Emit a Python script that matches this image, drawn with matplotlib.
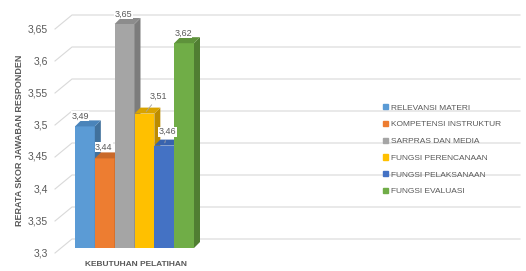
import numpy as np
import matplotlib
matplotlib.use("Agg")
import matplotlib.pyplot as plt
from matplotlib.lines import Line2D
from matplotlib.patches import Patch, Polygon

plt.rcParams['font.family'] = ['Liberation Sans', 'DejaVu Sans']

# data
categories = ['RELEVANSI MATERI', 'KOMPETENSI INSTRUKTUR', 'SARPRAS DAN MEDIA',
              'FUNGSI PERENCANAAN', 'FUNGSI PELAKSANAAN', 'FUNGSI EVALUASI']
values = [3.49, 3.44, 3.65, 3.51, 3.46, 3.62]
yticks = [3.3, 3.35, 3.4, 3.45, 3.5, 3.55, 3.6, 3.65]
group_label = 'KEBUTUHAN PELATIHAN'
y_label = 'RERATA SKOR JAWABAN RESPONDEN'

front_cols = ['#5B9BD5', '#ED7D31', '#A5A5A5', '#FFC000', '#4472C4', '#70AD47']
side_cols = ['#41719C', '#AE5A21', '#7C7C7C', '#BC8C00', '#2F5597', '#507E32']
top_cols = ['#4A84BA', '#C9692A', '#8C8C8C', '#D9A300', '#3863AE', '#5E923B']
# label offsets in pixels (dx, dy), leader line or not
lab_off = [(-5, 10, False), (-1, 11, False), (-1, 10, False),
           (14, 17, True), (3, 14, True), (-1, 10, False)]

W, H = 526, 271
fig = plt.figure(figsize=(W / 100, H / 100), dpi=100)
ax = fig.add_axes([75 / W, 23 / H, 119 / W, 224 / H])
ax.set_xlim(0, len(values))
ax.set_ylim(3.3, 3.65)
ax.axis('off')

txt = '#595959'

# depth of the bars in data units (6 px right, 6 px up)
ddx = 6 / (119 / len(values))
ddy = 6 * 0.35 / 224

# gridlines on the walls (back wall shifted up, left wall diagonal)
for v in yticks:
    yb = ax.transData.transform((0, v))[1]
    yf, yk = yb - 5, yb + 9
    fig.add_artist(Line2D([55 / W, 72 / W, 520 / W], [yf / H, yk / H, yk / H],
                          color='#D9D9D9', lw=0.8, zorder=0))
    fig.text(48 / W, yf / H, f'{v:g}'.replace('.', ','), ha='right', va='center',
             fontsize=7.5, color=txt)

# bars with 3D side and top faces
x = np.arange(len(values))
for i, v in enumerate(values):
    z = 2 + i
    ax.bar(x[i], v - 3.3, bottom=3.3, width=1, align='edge', color=front_cols[i],
           zorder=z, clip_on=False, lw=0)
    side = [(x[i] + 1, 3.3), (x[i] + 1, v), (x[i] + 1 + ddx, v + ddy), (x[i] + 1 + ddx, 3.3 + ddy)]
    top = [(x[i], v), (x[i] + 1, v), (x[i] + 1 + ddx, v + ddy), (x[i] + ddx, v + ddy)]
    ax.add_patch(Polygon(side, closed=True, color=side_cols[i], lw=0, zorder=z, clip_on=False))
    ax.add_patch(Polygon(top, closed=True, color=top_cols[i], lw=0, zorder=z, clip_on=False))

for i, v in enumerate(values):
    dx, dy, leader = lab_off[i]
    ap = dict(arrowstyle='-', color='#A6A6A6', lw=0.6, shrinkA=3, shrinkB=2) if leader else None
    ax.annotate(f'{v:.2f}'.replace('.', ','), xy=(x[i] + 0.5, v), xytext=(dx, dy),
                textcoords='offset pixels', ha='center', va='center', fontsize=6.5, color=txt,
                arrowprops=ap, zorder=20, annotation_clip=False,
                bbox=dict(boxstyle='square,pad=0.05', fc='white', ec='none'))

fig.text(136 / W, 1 - 265 / H, group_label, ha='center', va='center', fontsize=6,
         color=txt, fontweight='bold')
fig.text(20 / W, 1 - 140 / H, y_label, ha='center', va='center', rotation=90,
         fontsize=6.5, color=txt, fontweight='bold')

handles = [Patch(color=c) for c in front_cols]
fig.legend(handles, categories, loc='upper left', bbox_to_anchor=(383 / W, 1 - 104 / H),
           frameon=False, fontsize=6, handlelength=0.6, handleheight=0.6,
           handletextpad=0.35, labelspacing=1.1, borderaxespad=0, borderpad=0,
           labelcolor=txt)

fig.savefig('out.png', dpi=100, facecolor='white')
